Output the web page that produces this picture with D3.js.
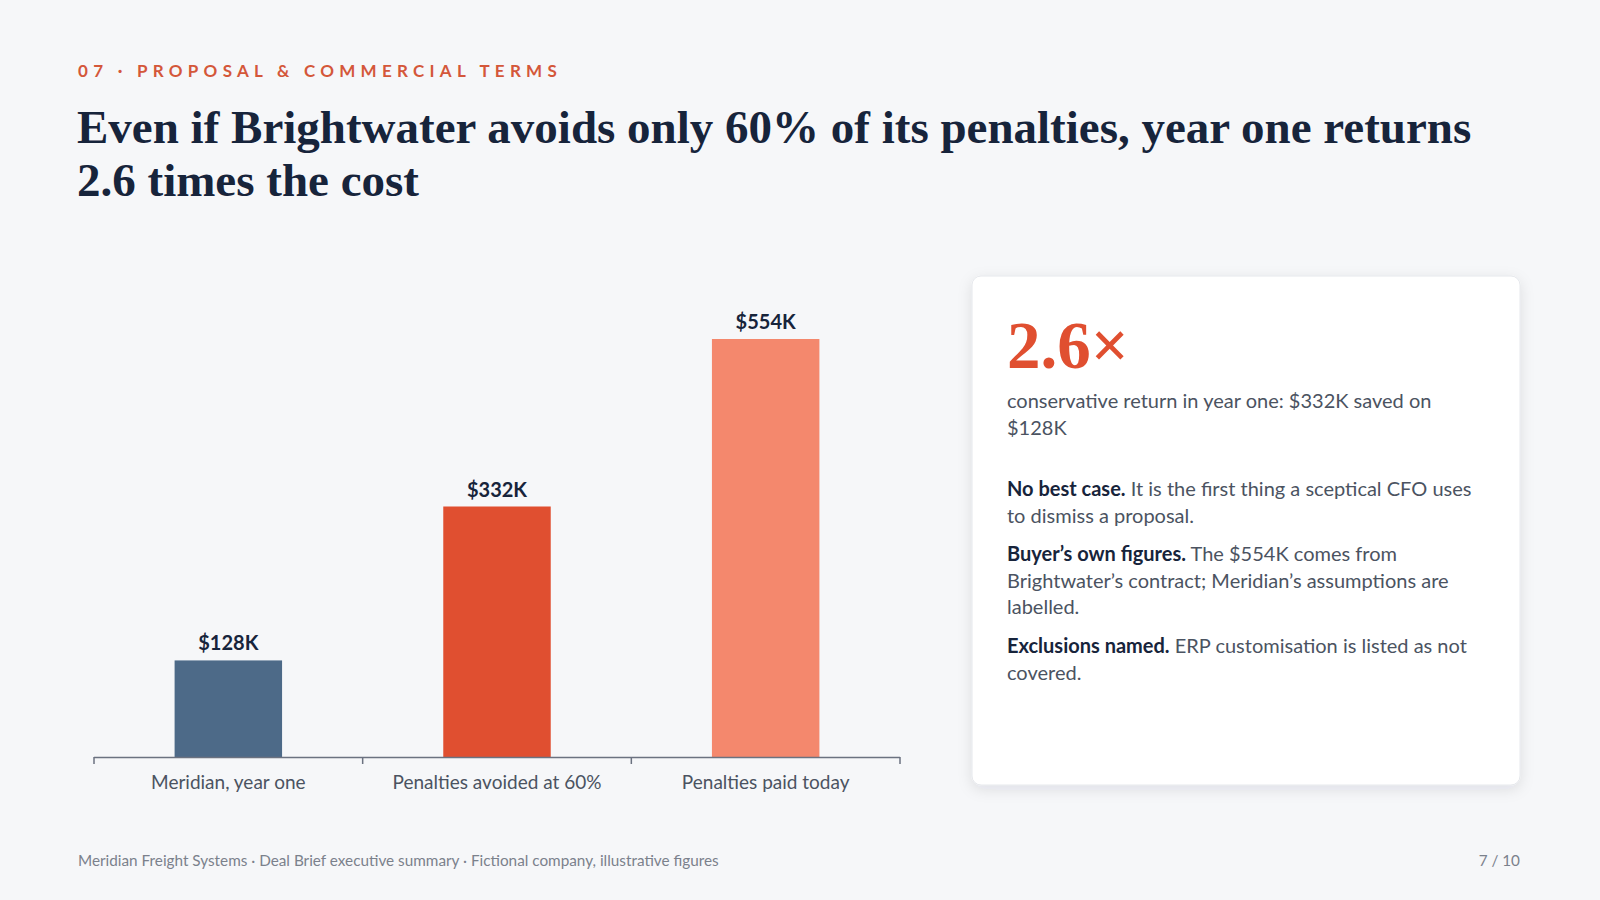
<!DOCTYPE html>
<html>
<head>
<meta charset="utf-8">
<script src="https://cdn.jsdelivr.net/npm/d3@7"></script>
<style>
  html, body { margin: 0; padding: 0; background: #f6f7f9; }
  svg { display: block; }
</style>
</head>
<body>
<div id="slide"></div>
<script>
/* Chart data */
const categories = ["Meridian, year one", "Penalties avoided at 60%", "Penalties paid today"];
const values = [128, 332, 554];          // $K
const valueLabels = ["$128K", "$332K", "$554K"];
const barColors = ["#4d6a88", "#e04f30", "#f4886d"];

/* Slide text */
const eyebrow = "07 · PROPOSAL & COMMERCIAL TERMS";
const titleLines = ["Even if Brightwater avoids only 60% of its penalties, year one returns", "2.6 times the cost"];
const bigStat = "2.6×";
const statCaption = ["conservative return in year one: $332K saved on", "$128K"];
const points = [
  {head: "No best case.", lines: [" It is the first thing a sceptical CFO uses", "to dismiss a proposal."]},
  {head: "Buyer’s own figures.", lines: [" The $554K comes from", "Brightwater’s contract; Meridian’s assumptions are", "labelled."]},
  {head: "Exclusions named.", lines: [" ERP customisation is listed as not", "covered."]}
];
const footer = "Meridian Freight Systems · Deal Brief executive summary · Fictional company, illustrative figures";
const pageNo = "7 / 10";

const width = 1600, height = 900;
const ink = "#17243b", muted = "#4b5361", accent = "#d4573a";
const sans = "Lato, 'Noto Sans', sans-serif";
const serif = "'Liberation Serif', 'DejaVu Serif', serif";

const svg = d3.select("#slide")
  .append("svg")
    .attr("width", width)
    .attr("height", height)
    .attr("viewBox", [0, 0, width, height]);

svg.append("rect")
  .attr("width", width).attr("height", height)
  .attr("fill", "#f6f7f9");

/* Header */
svg.append("text")
  .attr("x", 78).attr("y", 77)
  .attr("font-family", sans).attr("font-weight", 700)
  .attr("font-size", 17).attr("letter-spacing", "0.31em")
  .attr("fill", accent)
  .text(eyebrow);

svg.append("g")
  .selectAll("text")
  .data(titleLines)
  .join("text")
    .attr("x", 77)
    .attr("y", (d, i) => 143 + i * 53)
    .attr("font-family", serif).attr("font-weight", 700)
    .attr("font-size", 47)
    .attr("fill", ink)
    .text(d => d);

/* Bar chart */
const margins = {left: 94, right: 700, bottom: 757, top: 339};

const xScale = d3.scaleBand()
  .domain(categories)
  .range([margins.left, 900])
  .paddingInner(0)
  .paddingOuter(0);

const yScale = d3.scaleLinear()
  .domain([0, d3.max(values)])
  .range([margins.bottom, margins.top]);

const barW = xScale.bandwidth() * 0.4;
const data = categories.map((c, i) => ({cat: c, value: values[i], label: valueLabels[i], color: barColors[i]}));

svg.append("g")
  .attr("class", "bars")
  .selectAll("rect")
  .data(data)
  .join("rect")
    .attr("x", d => xScale(d.cat) + (xScale.bandwidth() - barW) / 2)
    .attr("y", d => yScale(d.value))
    .attr("width", barW)
    .attr("height", d => yScale(0) - yScale(d.value))
    .attr("fill", d => d.color);

svg.append("g")
  .attr("class", "labels")
  .selectAll("text")
  .data(data)
  .join("text")
    .attr("x", d => xScale(d.cat) + xScale.bandwidth() / 2)
    .attr("y", d => yScale(d.value) - 10)
    .attr("text-anchor", "middle")
    .attr("font-family", sans).attr("font-weight", 700)
    .attr("font-size", 20)
    .attr("fill", ink)
    .text(d => d.label);

/* x axis: ticks sit on the band edges */
const xAxis = svg.append("g")
  .attr("transform", `translate(0,${margins.bottom})`)
  .call(d3.axisBottom(xScale).tickSize(0).tickPadding(19));

xAxis.select(".domain")
  .attr("d", `M${margins.left},0.5H900`)
  .attr("stroke", "#6b7280").attr("stroke-width", 1.5);

xAxis.selectAll(".tick text")
  .attr("font-family", sans).attr("font-size", 19)
  .attr("fill", muted);

svg.append("g")
  .selectAll("line")
  .data(d3.range(categories.length + 1))
  .join("line")
    .attr("x1", i => margins.left + i * xScale.step())
    .attr("x2", i => margins.left + i * xScale.step())
    .attr("y1", margins.bottom)
    .attr("y2", margins.bottom + 7)
    .attr("stroke", "#6b7280").attr("stroke-width", 1.5);

/* Callout card */
const defs = svg.append("defs");
const shadow = defs.append("filter")
  .attr("id", "shadow")
  .attr("x", "-10%").attr("y", "-10%")
  .attr("width", "120%").attr("height", "120%");
shadow.append("feDropShadow")
  .attr("dx", 0).attr("dy", 4)
  .attr("stdDeviation", 7)
  .attr("flood-color", "#1a2433").attr("flood-opacity", 0.1);

const card = {x: 972, y: 276, w: 548, h: 509};

svg.append("rect")
  .attr("x", card.x).attr("y", card.y)
  .attr("width", card.w).attr("height", card.h)
  .attr("rx", 9)
  .attr("fill", "#ffffff")
  .attr("stroke", "#e6e8ec")
  .attr("filter", "url(#shadow)");

const tx = card.x + 35;

svg.append("text")
  .attr("x", tx).attr("y", 368)
  .attr("font-family", serif).attr("font-weight", 700)
  .attr("font-size", 67)
  .attr("fill", "#e04f30")
  .text(bigStat);

svg.append("g")
  .selectAll("text")
  .data(statCaption)
  .join("text")
    .attr("x", tx)
    .attr("y", (d, i) => 408 + i * 26.5)
    .attr("font-family", sans).attr("font-size", 20)
    .attr("fill", muted)
    .text(d => d);

let py = 496;
points.forEach(p => {
  p.lines.forEach((line, i) => {
    const t = svg.append("text")
      .attr("x", tx).attr("y", py)
      .attr("font-family", sans).attr("font-size", 20)
      .attr("fill", muted);
    if (i === 0) {
      t.append("tspan").attr("font-weight", 700).attr("fill", ink).text(p.head);
    }
    t.append("tspan").text(line);
    py += 26.5;
  });
  py += 12.3;
});

/* Footer */
svg.append("text")
  .attr("x", 78).attr("y", 866)
  .attr("font-family", sans).attr("font-size", 15.3)
  .attr("fill", "#7b818c")
  .text(footer);

svg.append("text")
  .attr("x", 1520).attr("y", 866)
  .attr("text-anchor", "end")
  .attr("font-family", sans).attr("font-size", 15.3)
  .attr("fill", "#7b818c")
  .text(pageNo);
</script>
</body>
</html>
